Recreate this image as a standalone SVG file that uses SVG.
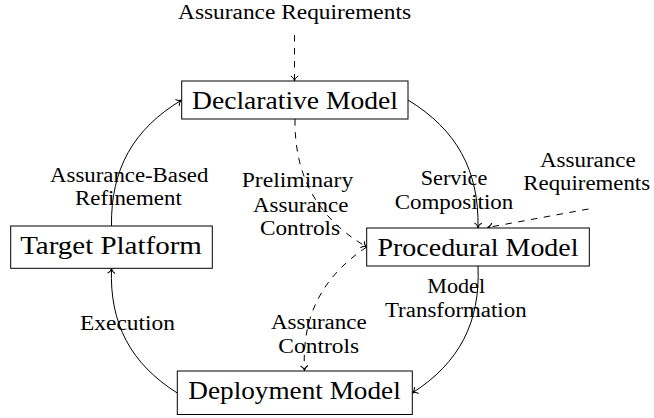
<svg xmlns="http://www.w3.org/2000/svg" width="654" height="418" viewBox="0 0 654 418">
<style>
.box{fill:#fff;stroke:#000;stroke-width:1}
.big{font-family:'Liberation Serif','Times New Roman',serif;font-size:25px;fill:#000;text-anchor:middle}
.lbl{font-family:'Liberation Serif','Times New Roman',serif;font-size:20.5px;fill:#000;text-anchor:middle}
.edge{fill:none;stroke:#000;stroke-width:1;marker-end:url(#arr)}
.dash{stroke-dasharray:6.5 6.5}
</style>
<defs>
<marker id="arr" markerUnits="userSpaceOnUse" orient="auto" refX="0" refY="0" markerWidth="12" markerHeight="12" overflow="visible">
<path d="M-5,-3.8 C-4,-1.6 -1.6,-0.3 0,0 C-1.6,0.3 -4,1.6 -5,3.8" fill="none" stroke="#000" stroke-width="1" stroke-dasharray="none"/>
</marker>
</defs>
<rect width="654" height="418" fill="#fff"/>
<g id="connectors">
<path class="edge" d="M408,100 C456.8,129.6 479.3,170.9 478,228"/>
<path class="edge" d="M478,266 C480.5,322 459.5,362.8 412.3,393"/>
<path class="edge" d="M177.3,393 C130.6,363.6 109.4,323.5 111.5,268.3"/>
<path class="edge" d="M111.5,226 C110.6,169.5 133.2,129 181.7,100"/>
<path class="edge dash" d="M294.5,35 L294.5,81"/>
<path class="edge dash" d="M295,119 C294.3,176.7 317.4,218 366.7,247"/>
<path class="edge dash" d="M366.7,247 C321.6,277.2 301.5,316.6 304.5,370.7"/>
<path class="edge dash" d="M588.5,209 L487.5,227.5"/>
</g>
<g id="declarative">
<rect class="box" x="181.7" y="81" width="226.3" height="38"/>
<text class="big" x="295" y="109.3" textLength="206" lengthAdjust="spacingAndGlyphs">Declarative Model</text>
</g>
<g id="procedural">
<rect class="box" x="366.7" y="228" width="222.6" height="38"/>
<text class="big" x="478" y="256.3" textLength="201" lengthAdjust="spacingAndGlyphs">Procedural Model</text>
</g>
<g id="target">
<rect class="box" x="10.7" y="226" width="201.6" height="42.3"/>
<text class="big" x="111" y="254.3" textLength="181.7" lengthAdjust="spacingAndGlyphs">Target Platform</text>
</g>
<g id="deployment">
<rect class="box" x="177.3" y="371" width="235" height="43.5"/>
<text class="big" x="294.5" y="399" textLength="212.4" lengthAdjust="spacingAndGlyphs">Deployment Model</text>
</g>
<g id="labels">
<text class="lbl" x="294.5" y="18.5" textLength="233" lengthAdjust="spacingAndGlyphs">Assurance Requirements</text>
<text class="lbl" x="129.2" y="181.7" textLength="158.3" lengthAdjust="spacingAndGlyphs">Assurance-Based</text>
<text class="lbl" x="128.4" y="205" textLength="106.7" lengthAdjust="spacingAndGlyphs">Refinement</text>
<text class="lbl" x="297.5" y="186.7" textLength="111.6" lengthAdjust="spacingAndGlyphs">Preliminary</text>
<text class="lbl" x="300.7" y="211.5" textLength="95.3" lengthAdjust="spacingAndGlyphs">Assurance</text>
<text class="lbl" x="300" y="234.5" textLength="80" lengthAdjust="spacingAndGlyphs">Controls</text>
<text class="lbl" x="454" y="185.3" textLength="66.6" lengthAdjust="spacingAndGlyphs">Service</text>
<text class="lbl" x="454" y="208.5" textLength="118.6" lengthAdjust="spacingAndGlyphs">Composition</text>
<text class="lbl" x="587.8" y="166.5" textLength="95.7" lengthAdjust="spacingAndGlyphs">Assurance</text>
<text class="lbl" x="586.7" y="189.5" textLength="126.7" lengthAdjust="spacingAndGlyphs">Requirements</text>
<text class="lbl" x="456.2" y="293.3" textLength="57.7" lengthAdjust="spacingAndGlyphs">Model</text>
<text class="lbl" x="455.8" y="316.7" textLength="141.7" lengthAdjust="spacingAndGlyphs">Transformation</text>
<text class="lbl" x="127.5" y="330" textLength="95" lengthAdjust="spacingAndGlyphs">Execution</text>
<text class="lbl" x="318.8" y="329" textLength="95.7" lengthAdjust="spacingAndGlyphs">Assurance</text>
<text class="lbl" x="318.7" y="352.7" textLength="80.7" lengthAdjust="spacingAndGlyphs">Controls</text>
</g>
</svg>
